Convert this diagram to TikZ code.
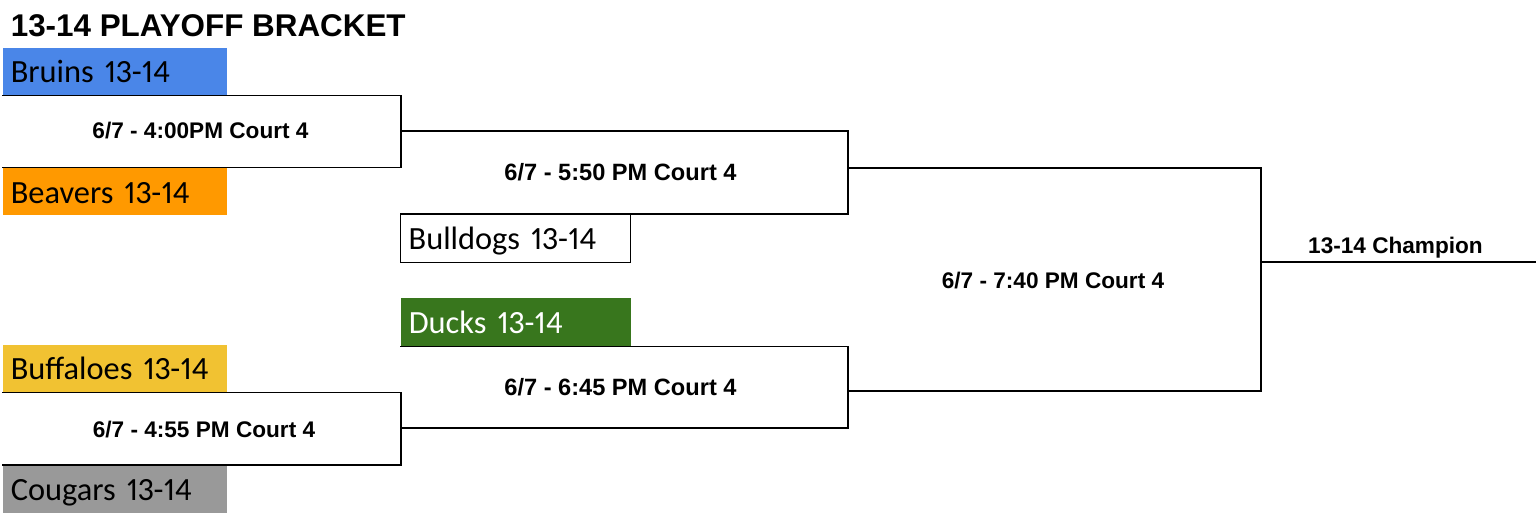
\documentclass[tikz,border=0pt]{standalone}
\usepackage{fontspec}
\setmainfont{Liberation Sans}
\newfontfamily\calibri[Numbers=Proportional]{Carlito}
\definecolor{bruinblue}{HTML}{4A86E8}
\definecolor{beaverorange}{HTML}{FF9900}
\definecolor{buffyellow}{HTML}{F1C232}
\definecolor{duckgreen}{HTML}{38761D}
\definecolor{cougargray}{HTML}{999999}
\begin{document}
\begin{tikzpicture}[x=1pt,y=-1pt,line width=1.6pt,
  team/.style={anchor=north west, minimum height=47pt, inner xsep=8pt, inner ysep=0pt,
    text height=22.5pt, text depth=0pt, font=\calibri\fontsize{32.4}{32.4}\selectfont,
    align=left, draw=none},
  leftteam/.style={team, text width=208pt, minimum width=224pt},
  midteam/.style={team, text width=214pt, minimum width=230pt, minimum height=48pt},
  game/.style={anchor=base, inner sep=0pt, font=\bfseries\fontsize{23}{23}\selectfont},
  smallgame/.style={game, font=\bfseries\fontsize{22.6}{22.6}\selectfont},
  biggame/.style={game, font=\bfseries\fontsize{23.6}{23.6}\selectfont},
  bracketline/.style={line width=1.6pt, black}]
\useasboundingbox (0,0) rectangle (1536,513);
\fill[white] (0,0) rectangle (1536,513);

\node[anchor=base west, inner sep=0pt, font=\bfseries\fontsize{31.4}{31.4}\selectfont] (title) at (10,37) {13-14 PLAYOFF BRACKET};

% teams
\node[leftteam, fill=bruinblue] (bruins) at (2,47) {Bruins 13-14};
\node[leftteam, fill=beaverorange] (beavers) at (2,167.5) {Beavers 13-14};
\node[leftteam, fill=buffyellow] (buffaloes) at (2,344) {Buffaloes 13-14};
\node[leftteam, fill=cougargray] (cougars) at (2,465) {Cougars 13-14};
\node[midteam, fill=white, draw=black, line width=1.3pt] (bulldogs) at (400,214) {Bulldogs 13-14};
\node[midteam, fill=duckgreen, text=white] (ducks) at (400,297) {Ducks 13-14};

% bracket joints
\coordinate (m1) at (401,131);
\coordinate (m2) at (848,168);
\coordinate (m3) at (1261,262);
\coordinate (m4) at (848,391);
\coordinate (m5) at (401,428);
\coordinate (champend) at (1536,262);

\draw[bracketline] (bruins.south west) -| (m1) |- (beavers.north west);
\draw[bracketline] (m1) -| (m2) |- (bulldogs.north west);
\draw[bracketline] (buffaloes.south west) -| (m5) |- (cougars.north west);
\draw[bracketline] (ducks.south west) -| (m4) |- (m5);
\draw[bracketline] (m2) -| (m3) |- (m4);
\draw[bracketline] (m3) -- (champend);

% labels
\node[smallgame] (g1) at (200.5,139) {6/7 - 4:00PM Court 4};
\node[biggame] (g2) at (620.5,181) {6/7 - 5:50 PM Court 4};
\node[smallgame] (g3) at (1053,288) {6/7 - 7:40 PM Court 4};
\node[biggame] (g4) at (620.5,395) {6/7 - 6:45 PM Court 4};
\node[smallgame] (g5) at (204,437) {6/7 - 4:55 PM Court 4};
\node[smallgame] (champ) at (1395.5,253) {13-14 Champion};
\end{tikzpicture}
\end{document}
